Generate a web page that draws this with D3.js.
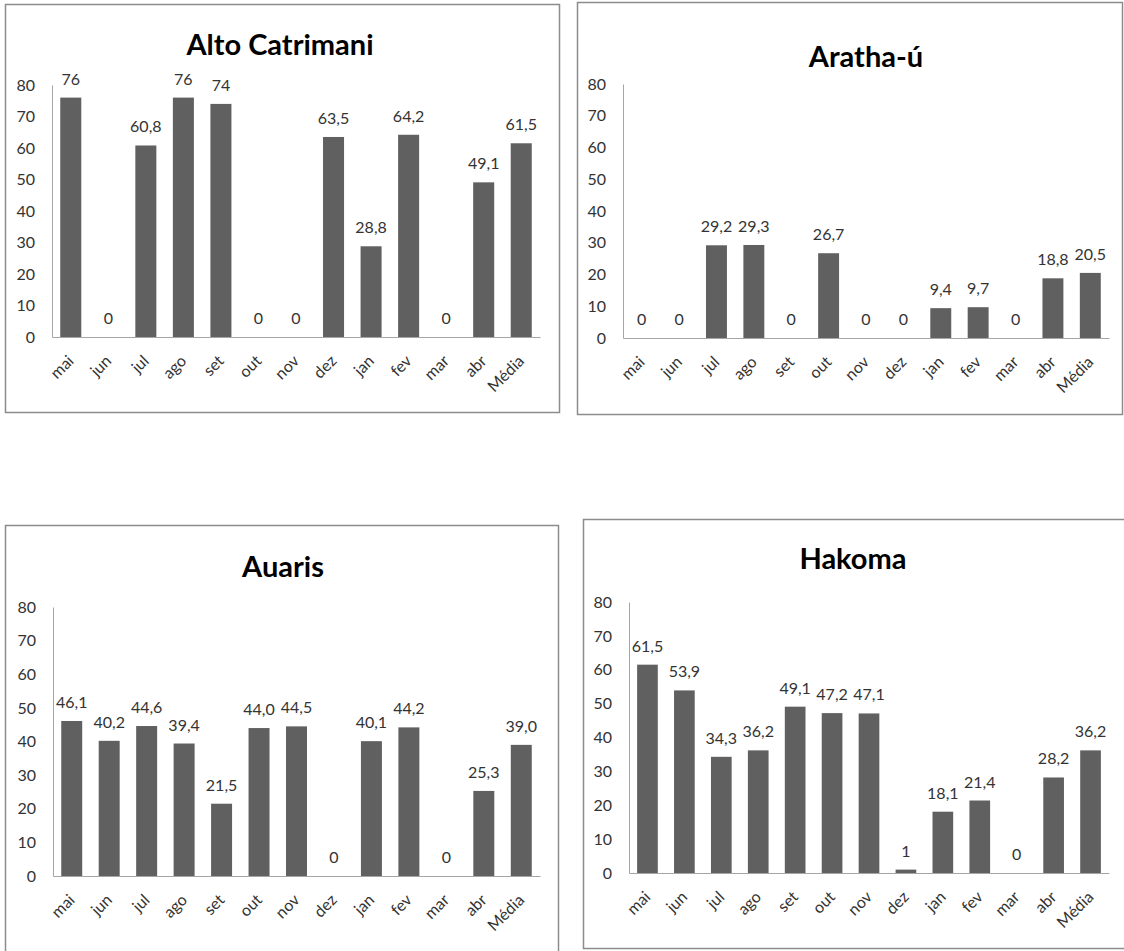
<!DOCTYPE html>
<html>
<head>
<meta charset="utf-8">
<script src="https://cdn.jsdelivr.net/npm/d3@7"></script>
<style>
  html, body { margin: 0; padding: 0; background: #fff; }
  svg { display: block; }
</style>
</head>
<body>
<svg id="chart" width="1124" height="951"></svg>
<script>
// Month categories (plus the annual mean)
const months = ["mai", "jun", "jul", "ago", "set", "out", "nov", "dez", "jan", "fev", "mar", "abr", "Média"];

// Values per locality
const altoCatrimani = [76, 0, 60.8, 76, 74, 0, 0, 63.5, 28.8, 64.2, 0, 49.1, 61.5];
const arathaU       = [0, 0, 29.2, 29.3, 0, 26.7, 0, 0, 9.4, 9.7, 0, 18.8, 20.5];
const auaris        = [46.1, 40.2, 44.6, 39.4, 21.5, 44.0, 44.5, 0, 40.1, 44.2, 0, 25.3, 39.0];
const hakoma        = [61.5, 53.9, 34.3, 36.2, 49.1, 47.2, 47.1, 1, 18.1, 21.4, 0, 28.2, 36.2];

// Y axis ticks
const yTicks = [0, 10, 20, 30, 40, 50, 60, 70, 80];

// Panel layout: frame box, plot area and title position
const panels = [
  { title: "Alto Catrimani", values: altoCatrimani, fixed: false,
    frame: [5.5, 4.5, 554, 408], plot: { x0: 52, x1: 540, yTop: 85, yBase: 337 }, tx: 280, ty: 55 },
  { title: "Aratha-ú", values: arathaU, fixed: false,
    frame: [577.5, 2.5, 545, 412], plot: { x0: 623, x1: 1109, yTop: 84, yBase: 338 }, tx: 866, ty: 67 },
  { title: "Auaris", values: auaris, fixed: true,
    frame: [5.5, 525.5, 553, 440], plot: { x0: 53, x1: 540, yTop: 607, yBase: 876 }, tx: 283, ty: 577 },
  { title: "Hakoma", values: hakoma, fixed: false,
    frame: [583.5, 519.5, 560, 429], plot: { x0: 629, x1: 1109, yTop: 602, yBase: 873 }, tx: 853, ty: 569 }
];

const svg = d3.select("#chart");
const FONT = "Lato, 'Open Sans', sans-serif";

function fmt(v, fixed) {
  if (v === 0) return "0";
  const s = fixed ? v.toFixed(1) : String(v);
  return s.replace(".", ",");
}

panels.forEach(p => {
  const g = svg.append("g");

  // frame
  g.append("rect")
    .attr("x", p.frame[0]).attr("y", p.frame[1])
    .attr("width", p.frame[2]).attr("height", p.frame[3])
    .attr("fill", "#fff").attr("stroke", "#8c8c8c").attr("stroke-width", 1.5);

  // title
  g.append("text")
    .attr("x", p.tx).attr("y", p.ty)
    .attr("text-anchor", "middle")
    .attr("font-family", FONT).attr("font-weight", "bold")
    .attr("font-size", 29).attr("fill", "#000")
    .text(p.title);

  const x = d3.scaleBand().domain(months).range([p.plot.x0, p.plot.x1]).paddingInner(0.44).paddingOuter(0.22);
  const y = d3.scaleLinear().domain([0, 80]).range([p.plot.yBase, p.plot.yTop]);

  // y axis
  const ya = g.append("g").attr("transform", `translate(${p.plot.x0},0)`)
    .call(d3.axisLeft(y).tickValues(yTicks).tickSize(0).tickPadding(17));
  ya.select(".domain").attr("stroke", "#a6a6a6").attr("stroke-width", 1);
  ya.selectAll("text").attr("font-family", FONT).attr("font-size", 16).attr("fill", "#333");

  // x axis with month labels rotated 45°
  const xa = g.append("g").attr("transform", `translate(0,${p.plot.yBase})`)
    .call(d3.axisBottom(x).tickSize(0).tickPadding(0));
  xa.select(".domain").attr("stroke", "#a6a6a6").attr("stroke-width", 1);
  xa.selectAll(".tick text")
    .attr("y", 0).attr("dy", 0)
    .attr("text-anchor", "end")
    .attr("transform", "translate(4,25) rotate(-45)")
    .attr("font-family", FONT).attr("font-size", 16).attr("fill", "#333");

  // bars
  g.selectAll(".bar").data(p.values).enter().append("rect")
    .attr("class", "bar")
    .attr("x", (d, i) => x(months[i]))
    .attr("width", x.bandwidth())
    .attr("y", d => y(d))
    .attr("height", d => y(0) - y(d))
    .attr("fill", "#606060");

  // value labels
  g.selectAll(".vlab").data(p.values).enter().append("text")
    .attr("class", "vlab")
    .attr("x", (d, i) => x(months[i]) + x.bandwidth() / 2)
    .attr("y", d => y(d) - 13)
    .attr("text-anchor", "middle")
    .attr("font-family", FONT).attr("font-size", 16).attr("fill", "#333")
    .text(d => fmt(d, p.fixed));
});
</script>
</body>
</html>
